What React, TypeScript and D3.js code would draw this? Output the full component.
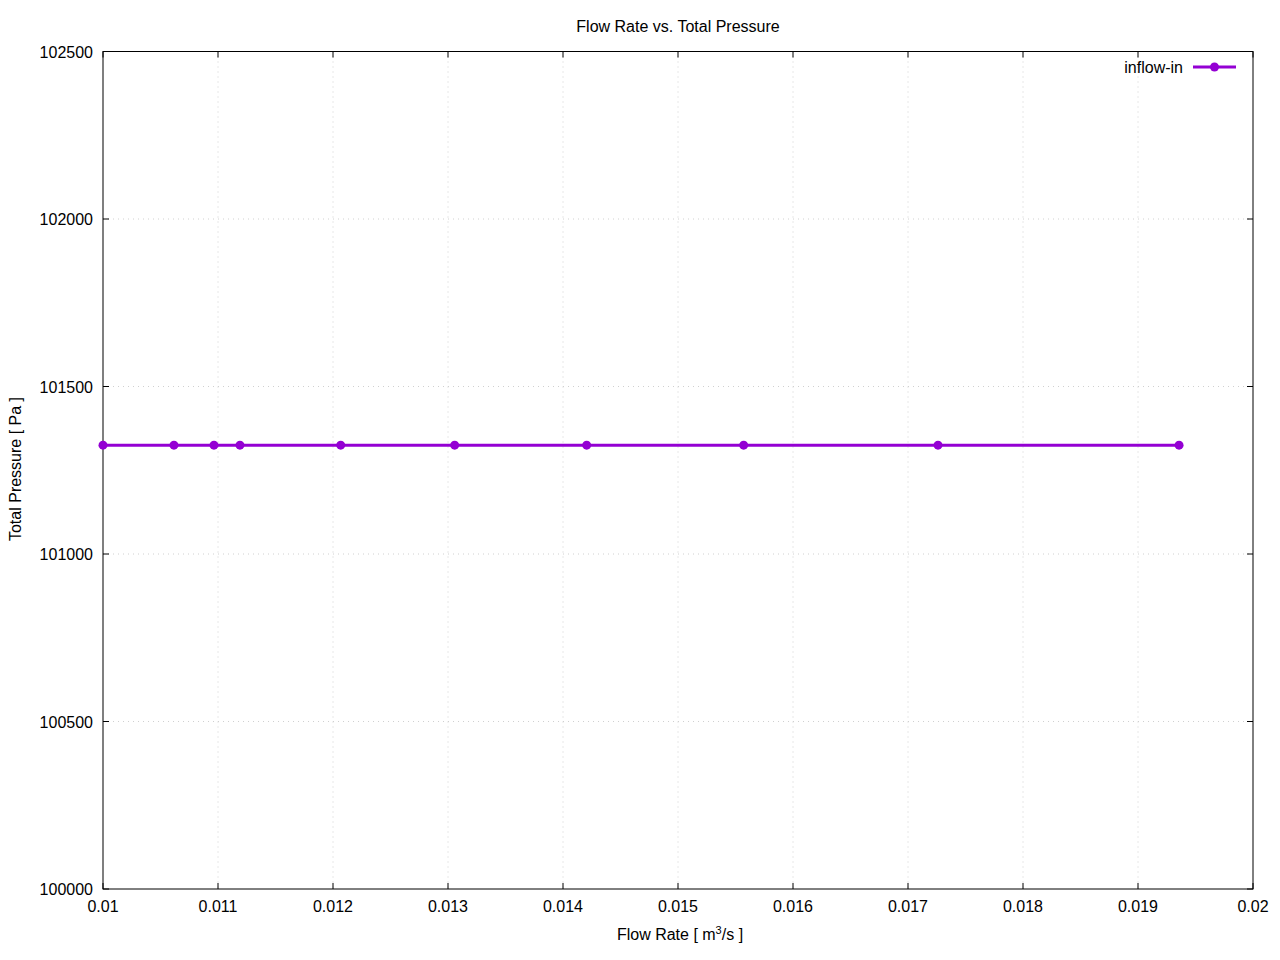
import React from "react";
import * as d3 from "d3";

const flowRate = [0.01, 0.010617, 0.010965, 0.011191, 0.012067, 0.013058, 0.014206, 0.015571, 0.017261, 0.019357];
const totalPressure = [101325, 101325, 101325, 101325, 101325, 101325, 101325, 101325, 101325, 101325];
const xTicks = [0.01, 0.011, 0.012, 0.013, 0.014, 0.015, 0.016, 0.017, 0.018, 0.019, 0.02];
const yTicks = [100000, 100500, 101000, 101500, 102000, 102500];
const seriesName = "inflow-in";

const W = 1280, H = 960;
const L = 103, R = 1253, T = 51.5, B = 889;
const color = "#9400D3";
const font = "'Liberation Sans', Arial, sans-serif";
const fs = 16;

export default function App() {
  const x = d3.scaleLinear().domain([0.01, 0.02]).range([L, R]);
  const y = d3.scaleLinear().domain([100000, 102500]).range([B, T]);
  const pts = flowRate.map((v, i) => [v, totalPressure[i]] as [number, number]);
  const line = d3.line<[number, number]>().x(d => x(d[0])).y(d => y(d[1]));
  const tl = 6;
  return (
    <svg width={W} height={H} style={{ position: "absolute", left: 0, top: 0, background: "#fff" }} fontFamily={font}>
      <rect x={0} y={0} width={W} height={H} fill="#fff" />
      {/* grid */}
      {xTicks.slice(1, -1).map((t, i) => (
        <line key={"gx" + i} x1={x(t)} x2={x(t)} y1={T} y2={B} stroke="#d0d0d0" strokeWidth={1} strokeDasharray="1,4" />
      ))}
      {yTicks.slice(1, -1).map((t, i) => (
        <line key={"gy" + i} x1={L} x2={R} y1={y(t)} y2={y(t)} stroke="#d0d0d0" strokeWidth={1} strokeDasharray="1,4" />
      ))}
      {/* ticks */}
      {xTicks.map((t, i) => (
        <g key={"xt" + i}>
          <line x1={x(t)} x2={x(t)} y1={B} y2={B - tl} stroke="#000" />
          <line x1={x(t)} x2={x(t)} y1={T} y2={T + tl} stroke="#000" />
          <text x={x(t)} y={912} textAnchor="middle" fontSize={fs}>{String(t)}</text>
        </g>
      ))}
      {yTicks.map((t, i) => (
        <g key={"yt" + i}>
          <line x1={L} x2={L + tl} y1={y(t)} y2={y(t)} stroke="#000" />
          <line x1={R} x2={R - tl} y1={y(t)} y2={y(t)} stroke="#000" />
          <text x={93} y={y(t) + 6} textAnchor="end" fontSize={fs}>{t}</text>
        </g>
      ))}
      <rect x={L} y={T} width={R - L} height={B - T} fill="none" stroke="#000" strokeWidth={1} />
      {/* data */}
      <path d={line(pts) || ""} fill="none" stroke={color} strokeWidth={3} />
      {pts.map((p, i) => (
        <circle key={"p" + i} cx={x(p[0])} cy={y(p[1])} r={4.5} fill={color} />
      ))}
      {/* legend */}
      <text x={1183} y={73} textAnchor="end" fontSize={fs}>{seriesName}</text>
      <line x1={1193} x2={1236} y1={67} y2={67} stroke={color} strokeWidth={3} />
      <circle cx={1214.5} cy={67} r={4.5} fill={color} />
      {/* titles */}
      <text x={678} y={32} textAnchor="middle" fontSize={fs}>Flow Rate vs. Total Pressure</text>
      <text x={680} y={940} textAnchor="middle" fontSize={fs}>
        Flow Rate [ m<tspan dy={-6} fontSize={11}>3</tspan><tspan dy={6}>/s ]</tspan>
      </text>
      <text transform={`translate(21,469) rotate(-90)`} textAnchor="middle" fontSize={fs}>Total Pressure [ Pa ]</text>
    </svg>
  );
}
